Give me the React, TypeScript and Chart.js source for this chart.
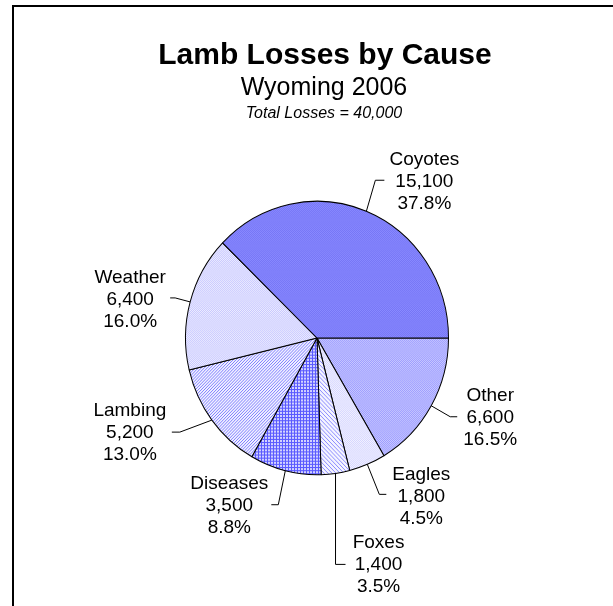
import React, { useEffect, useRef } from "react";
import { Chart, registerables } from "chart.js";

Chart.register(...registerables);

// ---- data ----
const categories = ["Other", "Eagles", "Foxes", "Diseases", "Lambing", "Weather", "Coyotes"];
const losses = [6600, 1800, 1400, 3500, 5200, 6400, 15100];
const titleText = "Lamb Losses by Cause";
const subtitleText = "Wyoming 2006";
const totalText = "Total Losses = 40,000";

// ---- layout (label placement relative to each slice's outer edge point) ----
const labelOffsets: number[][] = [
  [59, 12],
  [54, 32],
  [43, 91],
  [-56, 35],
  [-82, 13],
  [-60, -2],
  [58, -29],
];
const leaderOffsets: number[][][] = [
  [[19, 11], [26, 11]],
  [[12, 30], [19, 30]],
  [[0, 91], [10, 91]],
  [[-7, 34], [-14, 34]],
  [[-32, 12], [-40, 12]],
  [[-15, -4], [-20, -4]],
  [[9, -31], [18, -31]],
];

const FONT = "'Liberation Sans', Arial, Helvetica, sans-serif";
const SCALE_Y = 1.04;

function tile(size: number, fn: (x: number, y: number) => string, ctx: CanvasRenderingContext2D) {
  const c = document.createElement("canvas");
  c.width = size;
  c.height = size;
  const t = c.getContext("2d")!;
  for (let y = 0; y < size; y++) {
    for (let x = 0; x < size; x++) {
      t.fillStyle = fn(x, y);
      t.fillRect(x, y, 1, 1);
    }
  }
  return ctx.createPattern(c, "repeat")!;
}

function makePatterns(ctx: CanvasRenderingContext2D) {
  return [
    // Other
    tile(2, (x, y) => ((x + y) % 2 === 0 ? "#9d9dff" : "#c8c8ff"), ctx),
    // Eagles
    tile(2, (x, y) => ((x + y) % 2 === 0 ? "#d6d6ff" : "#f2f2ff"), ctx),
    // Foxes
    tile(4, (x, y) => (x === y ? "#8c8cff" : "#f4f4ff"), ctx),
    // Diseases
    tile(3, (x, y) => (x === 0 || y === 0 ? "#5a5aff" : "#d2d2ff"), ctx),
    // Lambing
    tile(3, (x, y) => ((x + y) % 3 === 0 ? "#8080ff" : "#f0f0ff"), ctx),
    // Weather
    tile(2, (x, y) => ((x + y) % 2 === 0 ? "#c9c9ff" : "#ececff"), ctx),
    // Coyotes
    tile(2, (x, y) => ((x + y) % 2 === 0 ? "#7676f6" : "#8a8aff"), ctx),
  ];
}

const fmt = (v: number) => v.toLocaleString("en-US");

export default function App() {
  const ref = useRef<HTMLCanvasElement>(null);

  useEffect(() => {
    const canvas = ref.current!;
    const ctx = canvas.getContext("2d")!;
    const total = losses.reduce((a, b) => a + b, 0);

    const ellipsePlugin = {
      id: "ellipse",
      beforeDatasetsDraw(chart: any) {
        const a = chart.getDatasetMeta(0).data[0];
        const c = chart.ctx;
        c.save();
        c.translate(a.x, a.y);
        c.scale(1, SCALE_Y);
        c.translate(-a.x, -a.y);
      },
      afterDatasetsDraw(chart: any) {
        chart.ctx.restore();
      },
    };

    const textPlugin = {
      id: "texts",
      afterDraw(chart: any) {
        const c: CanvasRenderingContext2D = chart.ctx;
        const meta = chart.getDatasetMeta(0);
        const cx0 = meta.data[0].x;
        c.save();
        c.fillStyle = "#000";
        c.textAlign = "center";
        c.textBaseline = "alphabetic";
        c.font = `bold 30px ${FONT}`;
        c.fillText(titleText, cx0 + 8, 64);
        c.font = `25px ${FONT}`;
        c.fillText(subtitleText, cx0 + 7, 95);
        c.font = `italic 16px ${FONT}`;
        c.fillText(totalText, cx0 + 7, 118);

        c.strokeStyle = "#000";
        c.lineWidth = 1;
        meta.data.forEach((arc: any, i: number) => {
          const mid = (arc.startAngle + arc.endAngle) / 2;
          const ex = arc.x + Math.cos(mid) * arc.outerRadius;
          const ey = arc.y + Math.sin(mid) * arc.outerRadius * SCALE_Y;
          const lo = leaderOffsets[i];
          c.beginPath();
          c.moveTo(ex, ey);
          c.lineTo(ex + lo[0][0], ey + lo[0][1]);
          c.lineTo(ex + lo[1][0], ey + lo[1][1]);
          c.stroke();

          const lx = ex + labelOffsets[i][0];
          const ly = ey + labelOffsets[i][1];
          const pct = ((losses[i] / total) * 100).toFixed(1) + "%";
          const lines = [categories[i], fmt(losses[i]), pct];
          c.font = `19px ${FONT}`;
          c.textBaseline = "middle";
          lines.forEach((t, k) => c.fillText(t, lx, ly + (k - 1) * 22));
        });
        c.restore();
      },
    };

    const chart = new Chart(ctx, {
      type: "pie",
      data: {
        labels: categories,
        datasets: [
          {
            data: losses,
            backgroundColor: makePatterns(ctx) as any,
            borderColor: "#000",
            borderWidth: 1,
            hoverOffset: 0,
          },
        ],
      },
      options: {
        responsive: false,
        animation: false,
        rotation: 90,
        layout: { padding: { left: 185, right: 164, top: 206, bottom: 136 } },
        plugins: {
          legend: { display: false },
          tooltip: { enabled: false },
        },
      },
      plugins: [ellipsePlugin, textPlugin],
    });
    return () => chart.destroy();
  }, []);

  return (
    <div>
      <div
        style={{
          position: "fixed",
          left: 12,
          top: 5,
          width: 1000,
          height: 1000,
          borderLeft: "2px solid #000",
          borderTop: "2px solid #000",
          boxSizing: "border-box",
        }}
      />
      <canvas
        ref={ref}
        width={613}
        height={606}
        style={{ position: "fixed", left: 0, top: 0, width: 613, height: 606 }}
      />
    </div>
  );
}
